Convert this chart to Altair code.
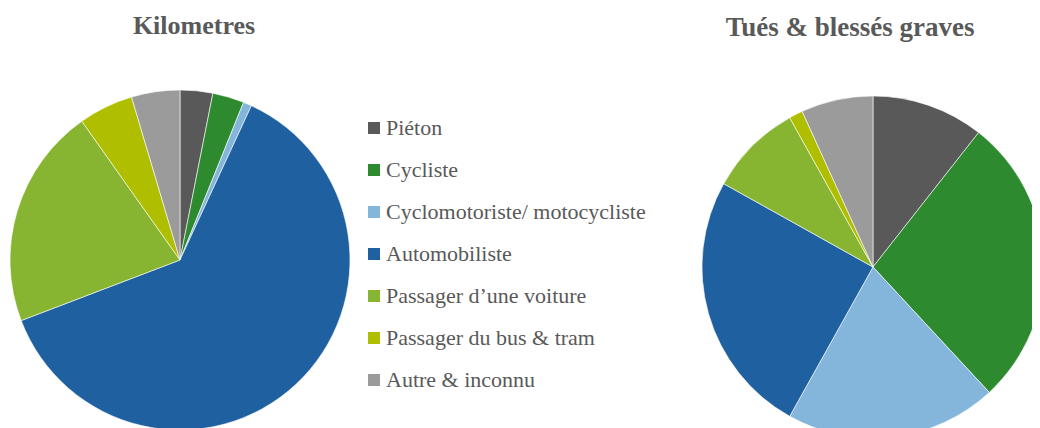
import altair as alt
import pandas as pd

categories = ["Piéton", "Cycliste", "Cyclomotoriste/ motocycliste", "Automobiliste",
              "Passager d’une voiture", "Passager du bus & tram", "Autre & inconnu"]
kilometres = [3.1, 3.0, 0.8, 62.3, 21.0, 5.2, 4.6]
tues_blesses = [10.6, 27.5, 20.0, 25.0, 8.8, 1.3, 6.8]
colors = ["#595959", "#2E8A2F", "#84B5DB", "#1E60A0", "#87B431", "#AFBF00", "#9B9B9B"]
titles = ["Kilometres", "Tués & blessés graves"]

df_km = pd.DataFrame({"cat": categories, "value": kilometres, "idx": range(len(categories))})
df_tb = pd.DataFrame({"cat": categories, "value": tues_blesses, "idx": range(len(categories))})

FONT = "'Liberation Serif', 'Times New Roman', 'DejaVu Serif', serif"
color = alt.Color("cat:N", scale=alt.Scale(domain=categories, range=colors),
                  sort=categories,
                  legend=alt.Legend(title=None, orient="none", legendX=355, legendY=109,
                                    symbolType="square", symbolSize=144, symbolStrokeWidth=0,
                                    labelFont=FONT, labelFontSize=22, labelColor="#595959",
                                    rowPadding=20, labelOffset=1, padding=0, labelLimit=400))

def pie(df, cx, cy, r):
    return alt.Chart(df).mark_arc(stroke="white", strokeWidth=0.6, radius=r).encode(
        theta=alt.Theta("value:Q", stack=True),
        order=alt.Order("idx:Q"),
        color=color,
        x=alt.value(cx), y=alt.value(cy),
    )

left = pie(df_km, 172, 252, 170)
right = pie(df_tb, 865, 259, 171)

tdf = pd.DataFrame({"t": [titles[0]]})
tdf2 = pd.DataFrame({"t": [titles[1]]})
t1 = alt.Chart(tdf).mark_text(font=FONT, fontSize=26, fontWeight="bold", color="#595959",
                              baseline="alphabetic").encode(text="t:N", x=alt.value(186), y=alt.value(26))
t2 = alt.Chart(tdf2).mark_text(font=FONT, fontSize=27, fontWeight="bold", color="#595959",
                               baseline="alphabetic").encode(text="t:N", x=alt.value(842), y=alt.value(28))

chart = alt.layer(left, right, t1, t2).resolve_scale(theta="independent").properties(
    width=1024, height=440, padding=0, autosize="none"
).configure_view(stroke=None)

chart.save("out.html", embed_options={"renderer": "svg", "actions": False})
